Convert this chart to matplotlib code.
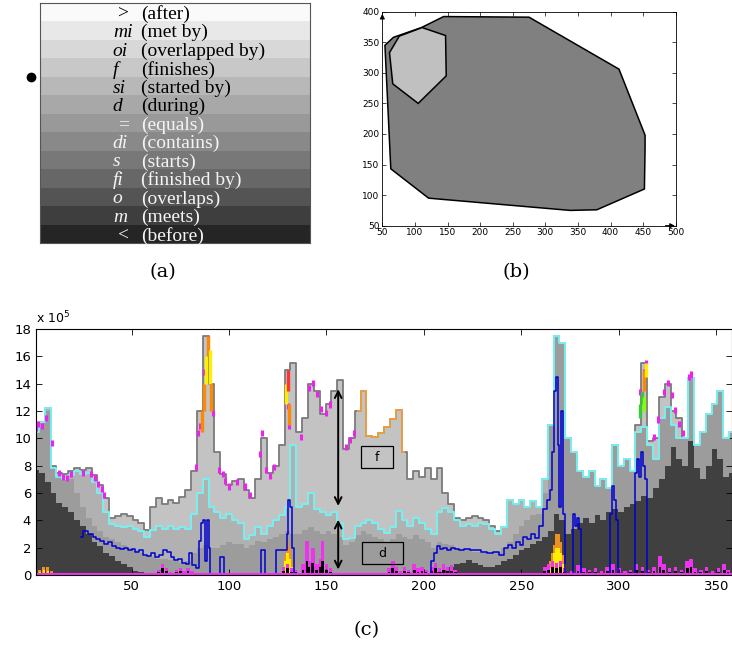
import numpy as np
import matplotlib.pyplot as plt
from matplotlib.patches import Polygon, Rectangle

# ---- panel (a): interval relations ----
rel_symbols = [">", "mi", "oi", "f", "si", "d", "=", "di", "s", "fi", "o", "m", "<"]
rel_names = ["(after)", "(met by)", "(overlapped by)", "(finishes)", "(started by)",
             "(during)", "(equals)", "(contains)", "(starts)", "(finished by)",
             "(overlaps)", "(meets)", "(before)"]
rel_colors = ["#fafafa", "#e8e8e8", "#d8d8d8", "#c8c8c8", "#b8b8b8", "#a8a8a8",
              "#999999", "#898989", "#787878", "#676767", "#545454", "#3e3e3e", "#252525"]

# ---- panel (b): two polygons ----
outer_x = [54, 67, 110, 144, 275, 413, 453, 453, 452, 379, 338, 121, 63]
outer_y = [345, 358, 374, 392, 391, 306, 198, 177, 110, 76, 75, 95, 143]
inner_x = [61, 76, 111, 147, 148, 105, 66]
inner_y = [333, 360, 374, 361, 295, 250, 282]

# ---- panel (c): stacked stair areas (x 10^5) ----
grid_x = list(range(1, 359, 3))
top = [10.5, 11.2, 12.2, 8.0, 7.5, 7.4, 7.6, 7.8, 7.7, 7.8, 7.3, 6.6, 5.6, 4.2, 4.3, 4.5,
       4.3, 4.0, 3.8, 3.3, 5.0, 5.6, 5.2, 5.5, 5.3, 5.7, 6.2, 7.6, 12.0, 17.5, 14.0, 9.0,
       7.4, 6.6, 6.9, 7.0, 6.2, 5.6, 7.0, 10.0, 7.5, 8.0, 9.5, 15.0, 15.5, 10.5, 11.5, 14.0,
       13.5, 11.8, 12.5, 13.5, 14.3, 9.2, 10.0, 12.0, 13.5, 10.2, 10.1, 10.4, 10.8, 11.4, 12.1, 9.0,
       7.0, 7.6, 7.2, 7.8, 7.0, 7.8, 6.0, 5.2, 4.2, 4.0, 4.2, 4.3, 4.2, 4.0, 3.6, 3.2,
       3.5, 5.5, 5.2, 5.5, 5.0, 5.4, 5.0, 7.0, 11.0, 17.5, 17.0, 10.0, 9.0, 7.6, 7.2, 7.6,
       6.5, 7.0, 6.4, 9.5, 8.0, 8.5, 7.6, 11.0, 15.5, 9.8, 10.0, 13.0, 14.0, 12.0, 11.5, 10.0,
       14.4, 9.5, 10.5, 11.8, 12.5, 13.5, 10.0, 10.5]
cyan = [10.5, 11.2, 12.2, 7.8, 7.2, 7.0, 7.3, 7.6, 7.4, 7.5, 6.8, 6.0, 4.6, 3.7, 3.6, 3.5,
        3.6, 3.4, 3.2, 2.8, 3.3, 3.6, 3.4, 3.6, 3.4, 3.5, 3.4, 4.5, 6.0, 7.0, 5.0, 4.6,
        4.2, 4.5, 4.0, 3.8, 2.6, 2.9, 3.5, 3.0, 3.6, 4.0, 4.4, 5.0, 9.5, 5.0, 5.2, 6.0,
        4.8, 4.6, 4.4, 4.6, 3.8, 2.6, 2.7, 3.6, 3.8, 4.0, 3.8, 3.4, 3.1, 3.5, 4.7, 4.0,
        3.6, 4.2, 3.8, 3.4, 3.0, 4.6, 4.9, 4.6, 4.0, 3.6, 3.7, 3.6, 3.8, 3.7, 3.4, 3.0,
        3.5, 5.5, 5.2, 5.5, 5.0, 5.4, 5.0, 7.0, 11.0, 17.5, 17.0, 10.0, 9.0, 7.6, 7.2, 7.6,
        6.5, 7.0, 6.4, 9.5, 8.0, 8.5, 7.6, 10.5, 10.8, 9.5, 8.5, 11.5, 12.3, 11.0, 10.0, 10.0,
        14.4, 9.5, 10.5, 11.8, 12.5, 13.5, 10.0, 10.5]
mid = [10.5, 11.2, 12.0, 7.8, 7.2, 7.0, 7.0, 6.0, 5.0, 4.2, 3.6, 3.2, 2.8, 2.6, 2.4, 2.2,
       2.0, 1.8, 1.6, 1.4, 1.3, 1.2, 1.2, 1.1, 1.0, 0.9, 1.0, 1.6, 2.0, 2.2, 2.0, 2.0,
       2.2, 2.4, 2.3, 2.3, 2.0, 2.2, 2.5, 2.4, 2.6, 2.8, 3.0, 3.2, 3.0, 3.0, 3.3, 3.5,
       3.2, 3.0, 3.2, 3.0, 2.8, 2.2, 2.4, 2.9, 3.2, 3.0, 2.8, 2.6, 2.4, 2.6, 3.0, 2.8,
       2.6, 2.9, 2.6, 2.4, 2.0, 2.4, 2.3, 2.2, 2.0, 1.8, 1.8, 1.7, 1.7, 1.6, 1.6, 1.7,
       2.0, 2.4, 3.0, 3.6, 4.0, 4.4, 4.5, 6.0, 11.0, 17.5, 17.0, 10.0, 9.0, 7.6, 7.2, 7.6,
       6.5, 7.0, 6.4, 9.5, 8.0, 8.5, 7.6, 10.5, 10.8, 9.5, 8.5, 11.5, 12.3, 11.0, 10.0, 10.0,
       14.4, 9.5, 10.5, 11.8, 12.5, 13.5, 10.0, 10.5]
dark = [7.7, 7.5, 6.8, 6.0, 5.3, 5.0, 4.6, 4.0, 3.6, 3.0, 2.4, 2.1, 1.6, 1.4, 1.0, 0.8,
        0.6, 0.3, 0.2, 0, 0, 0, 0, 0, 0, 0, 0, 0, 0, 0, 0, 0,
        0, 0, 0, 0, 0, 0, 0, 0, 0, 0, 0, 0, 0, 0, 0, 0,
        0, 0, 0, 0, 0, 0, 0, 0, 0, 0, 0, 0, 0, 0, 0, 0,
        0, 0, 0, 0, 0, 0.2, 0.4, 0.6, 0.8, 0.9, 1.1, 0.9, 0.7, 0.6, 0.6, 0.7,
        1.0, 1.2, 1.5, 1.8, 2.0, 2.3, 2.5, 2.8, 3.2, 4.5, 4.0, 3.0, 3.4, 3.8, 4.2, 3.8,
        4.4, 4.0, 4.6, 4.8, 4.6, 5.0, 5.2, 5.4, 5.8, 5.6, 6.4, 7.0, 8.0, 9.4, 8.5, 8.0,
        9.8, 7.8, 7.0, 8.0, 9.2, 8.5, 7.2, 7.5]

blue_x = [24, 26, 29, 31, 33, 35, 37, 39, 41, 43, 45, 47, 49, 51, 53, 55, 57, 59, 61, 63,
          65, 67, 69, 71, 73, 75, 77, 79, 80, 82, 84, 85, 86, 87, 88, 89, 90, 91, 95, 96,
          97, 98, 116, 117, 118, 119, 129, 130, 131, 132, 133, 134, 203, 204, 206, 207, 209, 211, 213, 215,
          217, 219, 222, 225, 228, 231, 234, 237, 240, 242, 244, 246, 248, 250, 252, 254, 256, 258, 260, 262,
          264, 265, 266, 267, 268, 269, 270, 271, 272, 273, 276, 277, 278, 279, 280, 281, 295, 296, 297, 298,
          299, 300, 308, 309, 310, 311, 312, 313, 314, 315]
blue_y = [2.8, 3.2, 3.0, 2.8, 2.6, 2.5, 2.3, 2.4, 2.1, 2.0, 1.9, 2.0, 1.8, 1.9, 1.7, 1.8, 1.5, 1.4, 1.6, 1.3,
          1.5, 1.8, 1.7, 1.3, 1.1, 1.2, 0.9, 0.8, 1.6, 0.7, 0.5, 2.5, 3.8, 4.0, 1.0, 4.0, 2.0, 0, 0, 1.3,
          1.3, 0, 0, 1.8, 1.8, 0, 1.8, 3.0, 5.5, 5.0, 2.0, 0, 0, 1.0, 1.6, 2.1, 1.9, 2.0, 1.8, 2.0,
          1.9, 1.8, 1.9, 1.8, 1.8, 1.7, 1.6, 1.7, 1.5, 2.0, 2.2, 2.0, 2.4, 2.2, 2.8, 2.6, 3.0, 2.7, 3.6, 4.8,
          5.5, 6.2, 9.0, 13.5, 14.5, 9.5, 5.0, 12.0, 4.5, 0, 0, 4.5, 3.6, 4.2, 3.4, 0, 0, 4.5, 6.5, 5.5,
          4.0, 0, 0, 7.5, 8.5, 7.2, 9.0, 8.0, 7.0, 0]

# pink dashes sitting on the top outline
pink_x = [1, 2, 4, 6, 9, 13, 15, 17, 19, 25, 29, 31, 33, 35, 36, 83, 84, 85, 87, 89,
          92, 95, 97, 98, 100, 104, 108, 111, 116, 117, 119, 121, 123, 129, 130, 131, 137, 141, 143, 145,
          147, 150, 152, 160, 162, 164, 311, 313, 314, 318, 320, 323, 325, 327, 329, 331, 333, 336, 337]
pink_y = [10.9, 11.2, 11.0, 11.6, 9.8, 7.6, 7.3, 7.2, 7.5, 7.6, 7.5, 7.2, 6.8, 6.4, 6.0, 8.0, 10.5, 11.0, 15.0, 17.4,
          12.0, 7.8, 7.5, 7.0, 6.6, 6.9, 6.6, 6.0, 9.0, 10.5, 7.8, 7.4, 8.0, 13.0, 12.5, 11.0, 10.2, 13.8, 14.2, 13.4,
          12.3, 12.0, 12.6, 9.5, 10.0, 10.5, 13.5, 15.0, 15.6, 10.2, 11.5, 13.5, 14.2, 13.3, 12.2, 11.2, 10.5, 14.6, 14.8]

# coloured highlight segments: x, low, high, colour
hl_x = [86, 87, 88, 89, 90, 91, 129, 130, 131, 311, 312, 313, 314, 313]
hl_lo = [10.5, 12.0, 14.0, 16.0, 14.0, 12.0, 12.5, 13.5, 11.0, 11.5, 12.5, 13.5, 14.5, 12.0]
hl_hi = [12.0, 14.0, 16.0, 17.5, 16.5, 14.0, 14.0, 15.0, 12.5, 12.5, 13.5, 15.0, 15.5, 13.0]
hl_col = ["#ff8800", "#ff8800", "#ffee00", "#ff8800", "#ffee00", "#ff8800", "#ffee00", "#ff3333",
          "#ff8800", "#33cc33", "#33cc33", "#ff8800", "#ffee00", "#88ff00"]

# bottom spikes (magenta outline, black core)
spike_x = [2, 4, 6, 8, 64, 66, 68, 70, 73, 75, 77, 79, 81, 128, 130, 132, 134, 138, 140, 141,
           143, 145, 147, 148, 150, 152, 182, 184, 186, 188, 190, 192, 195, 197, 199, 201, 204, 206, 208, 210,
           212, 214, 216, 262, 264, 266, 268, 270, 272, 276, 279, 282, 285, 288, 291, 294, 297, 300, 303, 306,
           309, 312, 315, 318, 321, 323, 326, 329, 332, 335, 337, 339, 342, 345, 348, 351, 354, 356]
spike_pink = [0, 0, 0, 0, 0.4, 0.8, 0.5, 0.2, 0.4, 0.5, 0.3, 0.5, 0.3, 0.6, 0.8, 0.5, 0.4, 0.8, 2.5, 1.0,
              2.0, 0.8, 1.2, 2.5, 0.8, 0.5, 0.5, 1.0, 0.6, 0.3, 0.6, 0.4, 0.8, 0.5, 0.6, 0.4, 0.6, 0.9, 0.5, 0.8,
              0.6, 0.7, 0.4, 0.6, 0.8, 1.0, 0.9, 1.0, 0.5, 0.3, 0.7, 0.5, 0.4, 0.5, 0.3, 0.6, 0.8, 0.5, 0.3, 0.4,
              0.8, 0.6, 0.4, 0.6, 1.4, 0.8, 0.5, 0.6, 0.4, 1.0, 1.2, 0.5, 0.4, 0.6, 0.3, 0.5, 0.8, 0.4]
spike_black = [0, 0, 0, 0, 0.2, 0.5, 0.3, 0, 0.2, 0.3, 0.1, 0.3, 0, 0.3, 0.5, 0.2, 0.2, 0.4, 1.0, 0.6,
               0.9, 0.4, 0.6, 1.0, 0.4, 0.2, 0.2, 0.5, 0.3, 0, 0.3, 0.2, 0.4, 0.2, 0.3, 0.2, 0.3, 0.5, 0.2, 0.4,
               0.3, 0.3, 0.2, 0.3, 0.4, 0.6, 0.5, 0.6, 0.2, 0, 0.3, 0.2, 0.2, 0.2, 0, 0.3, 0.4, 0.2, 0, 0.2,
               0.4, 0.3, 0.2, 0.3, 0.6, 0.4, 0.2, 0.3, 0.2, 0.5, 0.6, 0.2, 0.2, 0.3, 0, 0.2, 0.4, 0.2]

# orange / yellow bits near zero
warm_x = [1, 3, 5, 7, 9, 10, 129, 130, 131, 132, 265, 266, 267, 268, 269, 270, 271, 272]
warm_orange = [0.1, 0.4, 0.6, 0.6, 0.3, 0.05, 1.5, 2.5, 2.0, 1.2, 1.0, 1.6, 2.2, 3.0, 3.0, 2.4, 1.5, 0.8]
warm_yellow = [0, 0.2, 0.4, 0.3, 0, 0, 1.0, 1.6, 1.2, 0.6, 0.5, 1.0, 1.6, 2.0, 2.0, 1.6, 0.8, 0.3]

fig = plt.figure(figsize=(7.32, 6.45), dpi=100)

# (a) table of relations
ax_a = fig.add_axes([0.0546, 0.6233, 0.3689, 0.3721])
n = len(rel_names)
ax_a.barh(range(n), [1] * n, height=1.0, left=0, color=rel_colors[::-1], edgecolor="none")
for i, (sym, name) in enumerate(zip(rel_symbols, rel_names)):
    yy = n - 1 - i
    tc = "black" if i < 6 else "#f4f4f4"
    if sym in ("=", ">", "<"):
        ax_a.text(0.29, yy, sym, ha="left", va="center_baseline", fontsize=14,
                  family="Liberation Serif", color=tc)
    else:
        ax_a.text(0.27, yy, sym, ha="left", va="center_baseline", fontsize=14,
                  family="Liberation Serif", style="italic", color=tc)
    ax_a.text(0.374, yy, name, ha="left", va="center_baseline", fontsize=14,
              family="Liberation Serif", color=tc)
ax_a.set_xlim(0, 1)
ax_a.set_ylim(-0.5, n - 0.5)
ax_a.set_xticks([])
ax_a.set_yticks([])
for sp in ax_a.spines.values():
    sp.set_color("#555555")
    sp.set_linewidth(0.8)
ax_a.plot([-0.035], [0.69], "o", color="black", markersize=6, transform=ax_a.transAxes, clip_on=False)

# (b) polygons
ax_b = fig.add_axes([0.5223, 0.6501, 0.4008, 0.3318])
ax_b.add_patch(Polygon(np.column_stack([outer_x, outer_y]), closed=True,
                       facecolor="#808080", edgecolor="black", linewidth=1.1))
ax_b.add_patch(Polygon(np.column_stack([inner_x, inner_y]), closed=True,
                       facecolor="#c0c0c0", edgecolor="black", linewidth=1.1))
ax_b.set_xlim(50, 500)
ax_b.set_ylim(50, 400)
ax_b.set_xticks(range(50, 501, 50))
ax_b.set_yticks(range(50, 401, 50))
ax_b.tick_params(direction="in", top=True, right=True, labelsize=6.5, length=3, width=0.5, pad=2)
for sp in ax_b.spines.values():
    sp.set_linewidth(0.6)
ax_b.annotate("", xy=(50, 401), xytext=(50, 385),
              arrowprops=dict(arrowstyle="-|>", color="black", lw=0.8, mutation_scale=7), annotation_clip=False)
ax_b.annotate("", xy=(503, 50), xytext=(480, 50),
              arrowprops=dict(arrowstyle="-|>", color="black", lw=0.8, mutation_scale=7), annotation_clip=False)

# (c) stacked stair areas
ax_c = fig.add_axes([0.0492, 0.1085, 0.9508, 0.3814])
ax_c.fill_between(grid_x, 0, top, step="mid", color="#c3c3c3", lw=0)
ax_c.fill_between(grid_x, 0, cyan, step="mid", color="#b1b1b1", lw=0)
ax_c.fill_between(grid_x, 0, mid, step="mid", color="#9c9c9c", lw=0)
ax_c.fill_between(grid_x, 0, dark, step="mid", color="#404040", lw=0)
ax_c.step(grid_x, top, where="mid", color="#7a7a7a", lw=1.3)
ax_c.step(grid_x[55:64], top[55:64], where="mid", color="#f0a040", lw=1.3)
ax_c.step(grid_x, cyan, where="mid", color="#78f0f0", lw=1.4)
ax_c.step(blue_x, blue_y, where="mid", color="#0000d0", lw=1.1)
ax_c.vlines(pink_x, np.array(pink_y) - 0.35, np.array(pink_y) + 0.1, color="#ee22ee", lw=2.2)
ax_c.vlines(hl_x, hl_lo, hl_hi, colors=hl_col, lw=2.4)
ax_c.bar(warm_x, warm_orange, width=1.6, color="#f09020")
ax_c.bar(warm_x, warm_yellow, width=1.2, color="#ffee00")
ax_c.bar(spike_x, spike_pink, width=1.8, color="#ee33ee")
ax_c.bar(spike_x, spike_black, width=1.4, color="black")
ax_c.axhline(0.05, color="#ee33ee", lw=1.5)

ax_c.annotate("", xy=(156, 13.8), xytext=(156, 4.85),
              arrowprops=dict(arrowstyle="<->", color="black", lw=1.4, mutation_scale=12))
ax_c.annotate("", xy=(156, 4.25), xytext=(156, 0.2),
              arrowprops=dict(arrowstyle="<->", color="black", lw=1.4, mutation_scale=12))
ax_c.add_patch(Rectangle((167.5, 7.8), 16.5, 1.65, fill=False, edgecolor="black", lw=0.9))
ax_c.text(175.7, 8.62, "f", ha="center", va="center", fontsize=9)
ax_c.add_patch(Rectangle((168, 0.8), 21, 1.6, fill=False, edgecolor="black", lw=0.9))
ax_c.text(178.5, 1.6, "d", ha="center", va="center", fontsize=9)

ax_c.set_xlim(1, 358)
ax_c.set_ylim(0, 18)
ax_c.set_xticks(range(50, 351, 50))
ax_c.set_yticks(range(0, 19, 2))
ax_c.tick_params(direction="in", top=True, right=True, labelsize=9.5, length=4, width=0.6)
ax_c.text(0.0, 1.012, r"x 10$^5$", transform=ax_c.transAxes, fontsize=9, ha="left", va="bottom")

# captions
fig.text(163 / 732, 1 - 272 / 645, "(a)", ha="center", va="center", fontsize=14, family="DejaVu Serif")
fig.text(516 / 732, 1 - 272 / 645, "(b)", ha="center", va="center", fontsize=14, family="DejaVu Serif")
fig.text(367 / 732, 1 - 630 / 645, "(c)", ha="center", va="center", fontsize=14, family="DejaVu Serif")

fig.savefig("out.png", dpi=100)
